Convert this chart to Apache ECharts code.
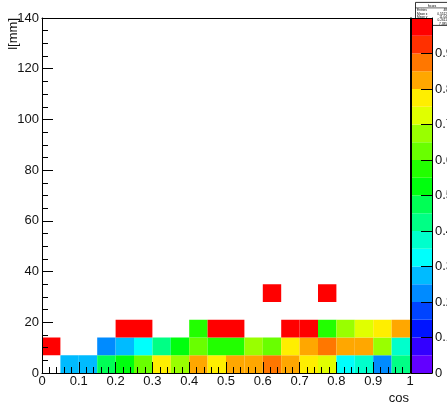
<!DOCTYPE html>
<html><head><meta charset="utf-8">
<script src="https://cdn.jsdelivr.net/npm/echarts@6/dist/echarts.min.js"></script>
<style>html,body{margin:0;padding:0;background:#fff}#c{width:447px;height:409px}</style>
</head><body><div id="c"></div>
<script>
// ---- data ----
const xBinWidth = 0.05;   // cos bin width
const yBinHeight = 7;     // l[mm] bin height
// bin contents per y row (row r covers l = r*7 .. r*7+7), 20 cos bins each
const row0 = [null, 0.27, 0.28, 0.47, 0.52, 0.62, 0.77, 0.68, 0.83, 0.78, 0.82, 0.83, 0.88, 0.82, 0.77, 0.72, 0.32, 0.38, 0.22, 0.43];
const row1 = [1.0, null, null, 0.22, 0.28, 0.32, 0.42, 0.52, 0.63, 0.57, 0.57, 0.67, 0.63, 0.77, 0.83, 0.88, 0.83, 0.82, 0.67, 0.38];
const row2 = [null, null, null, null, 1.0, 1.0, null, null, 0.57, 1.0, 1.0, null, null, 1.0, 1.0, 0.57, 0.67, 0.72, 0.78, 0.83];
const row3 = [null, null, null, null, null, null, null, null, null, null, null, null, null, null, null, null, null, null, null, null];
const row4 = [null, null, null, null, null, null, null, null, null, null, null, null, 1.0, null, null, 1.0, null, null, null, null];
const rows = [row0, row1, row2, row3, row4];

const xTickLabels = ['0', '0.1', '0.2', '0.3', '0.4', '0.5', '0.6', '0.7', '0.8', '0.9', '1'];
const yTickLabels = ['0', '20', '40', '60', '80', '100', '120', '140'];
const zTickLabels = ['0', '0.1', '0.2', '0.3', '0.4', '0.5', '0.6', '0.7', '0.8', '0.9', '1'];
const zMax = 1.0;
const nLevels = 20;

const xTitle = 'cos';
const yTitle = 'l[mm]';
const statsTitle = 'hcos';
const statsNames = ['Entries', 'Mean x', 'Mean y', 'RMS x', 'RMS y'];
const statsValues = ['48', '0.5512', '11.04', '0.2611', '7.385'];

// ---- palette (ROOT "pretty" violet->red, 50 colours, 20 contours) ----
function hslHex(h) {
  const s = 1, l = 0.5;
  const c = (1 - Math.abs(2 * l - 1)) * s, hp = h / 60, x = c * (1 - Math.abs(hp % 2 - 1));
  let r = 0, g = 0, b = 0;
  if (hp < 1) { r = c; g = x; } else if (hp < 2) { r = x; g = c; } else if (hp < 3) { g = c; b = x; }
  else if (hp < 4) { g = x; b = c; } else if (hp < 5) { r = x; b = c; } else { r = c; b = x; }
  const m = l - c / 2;
  const t = v => Math.round((v + m) * 255).toString(16).padStart(2, '0');
  return '#' + t(r) + t(g) + t(b);
}
const palette = [];
for (let k = 0; k < nLevels; k++) {
  const idx = Math.floor((k + 0.99) * 50 / nLevels);
  palette.push(hslHex(280 - (idx + 1) * 5.6));
}
const dz = zMax / nLevels;
const pieces = palette.map((c, k) => k === nLevels - 1
  ? { gte: k * dz, lte: zMax + 1e-9, color: c }
  : { gte: k * dz, lt: (k + 1) * dz, color: c });

// ---- build data ----
const cells = [];
rows.forEach((row, r) => row.forEach((v, c) => {
  if (v != null) cells.push([c * xBinWidth, (c + 1) * xBinWidth, r * yBinHeight, (r + 1) * yBinHeight, v]);
}));
const bands = [];
for (let k = 0; k < nLevels; k++) bands.push([0, 1, k * dz, (k + 1) * dz, (k + 0.5) * dz]);

function renderRect(params, api) {
  const p0 = api.coord([api.value(0), api.value(3)]);
  const p1 = api.coord([api.value(1), api.value(2)]);
  return { type: 'rect', shape: { x: p0[0], y: p0[1], width: p1[0] - p0[0], height: p1[1] - p0[1] },
           style: { fill: api.visual('color'), stroke: null } };
}

const FONT = 'Liberation Sans, Arial, sans-serif';
const black = { color: '#000', width: 1 };
const lineOnly = (o) => Object.assign({ axisLine: { show: true, onZero: false, lineStyle: black }, axisTick: { show: false },
  axisLabel: { show: false }, splitLine: { show: false }, z: 10 }, o);

const chart = echarts.init(document.getElementById('c'), null, { renderer: 'canvas' });
chart.setOption({
  animation: false,
  backgroundColor: '#fff',
  grid: [
    { left: 42, top: 18, width: 368, height: 355, outerBoundsMode: 'none', containLabel: false },
    { left: 411, top: 18, width: 21, height: 355, outerBoundsMode: 'none', containLabel: false }
  ],
  xAxis: [
    { type: 'value', gridIndex: 0, min: 0, max: 1, interval: 0.1, position: 'bottom', z: 10,
      axisLine: { show: true, onZero: false, lineStyle: black },
      axisTick: { show: true, inside: true, length: 11, lineStyle: black },
      minorTick: { show: true, splitNumber: 5, length: 6, lineStyle: black },
      splitLine: { show: false },
      axisLabel: { margin: 2, fontSize: 13, fontFamily: FONT, color: '#111',
        formatter: v => xTickLabels[Math.round(v * 10)] } },
    lineOnly({ type: 'value', gridIndex: 0, min: 0, max: 1, position: 'top' }),
    lineOnly({ type: 'value', gridIndex: 1, min: 0, max: 1, position: 'bottom' }),
    lineOnly({ type: 'value', gridIndex: 1, min: 0, max: 1, position: 'top' })
  ],
  yAxis: [
    { type: 'value', gridIndex: 0, min: 0, max: 140, interval: 20, position: 'left', z: 10,
      axisLine: { show: true, onZero: false, lineStyle: black },
      axisTick: { show: true, inside: true, length: 11, lineStyle: black },
      minorTick: { show: true, splitNumber: 4, length: 6, lineStyle: black },
      splitLine: { show: false },
      axisLabel: { margin: 3, fontSize: 13, fontFamily: FONT, color: '#111',
        formatter: v => yTickLabels[Math.round(v / 20)] } },
    lineOnly({ type: 'value', gridIndex: 0, min: 0, max: 140, position: 'right' }),
    { type: 'value', gridIndex: 1, min: 0, max: zMax, interval: 0.1, position: 'right', z: 10,
      axisLine: { show: true, onZero: false, lineStyle: black },
      axisTick: { show: true, inside: true, length: 11, lineStyle: black },
      splitLine: { show: false },
      axisLabel: { margin: 3, fontSize: 13, fontFamily: FONT, color: '#111', showMaxLabel: false,
        formatter: v => zTickLabels[Math.round(v * 10)] } },
    lineOnly({ type: 'value', gridIndex: 1, min: 0, max: zMax, position: 'left' })
  ],
  visualMap: { type: 'piecewise', show: false, dimension: 4, seriesIndex: [0, 1], pieces: pieces },
  series: [
    { type: 'custom', xAxisIndex: 0, yAxisIndex: 0, renderItem: renderRect, data: cells,
      encode: { x: [0, 1], y: [2, 3] }, silent: true, clip: true },
    { type: 'custom', xAxisIndex: 2, yAxisIndex: 2, renderItem: renderRect, data: bands,
      encode: { x: [0, 1], y: [2, 3] }, silent: true }
  ],
  graphic: [
    { type: 'text', x: 409, y: 398, z: 100,
      style: { text: xTitle, font: '13px ' + FONT, fill: '#111', align: 'right', verticalAlign: 'middle', textAlign: 'right', textVerticalAlign: 'middle' } },
    { type: 'text', x: 13, y: 18, rotation: Math.PI / 2, z: 100,
      style: { text: yTitle, font: '13px ' + FONT, fill: '#111', align: 'right', verticalAlign: 'middle', textAlign: 'right', textVerticalAlign: 'middle' } },
    { type: 'group', left: 413, top: 2, z: 100, children: [
      { type: 'rect', shape: { x: 0, y: 0, width: 33, height: 23 }, style: { fill: '#fff', stroke: '#000', lineWidth: 0.8 } },
      { type: 'line', shape: { x1: 0, y1: 5.5, x2: 33, y2: 5.5 }, style: { stroke: '#000', lineWidth: 0.6 } },
      { type: 'text', x: 16.5, y: 3, style: { text: statsTitle, font: '4px ' + FONT, fill: '#000', align: 'center', verticalAlign: 'middle', textAlign: 'center', textVerticalAlign: 'middle' } },
      ...statsNames.map((n, i) => ({ type: 'text', x: 1.5, y: 8 + i * 3.4,
        style: { text: n, font: '3.2px ' + FONT, fill: '#000', align: 'left', verticalAlign: 'middle', textAlign: 'left', textVerticalAlign: 'middle' } })),
      ...statsValues.map((n, i) => ({ type: 'text', x: 31.5, y: 8 + i * 3.4,
        style: { text: n, font: '3.2px ' + FONT, fill: '#000', align: 'right', verticalAlign: 'middle', textAlign: 'right', textVerticalAlign: 'middle' } }))
    ] }
  ]
});
</script>
</body></html>
